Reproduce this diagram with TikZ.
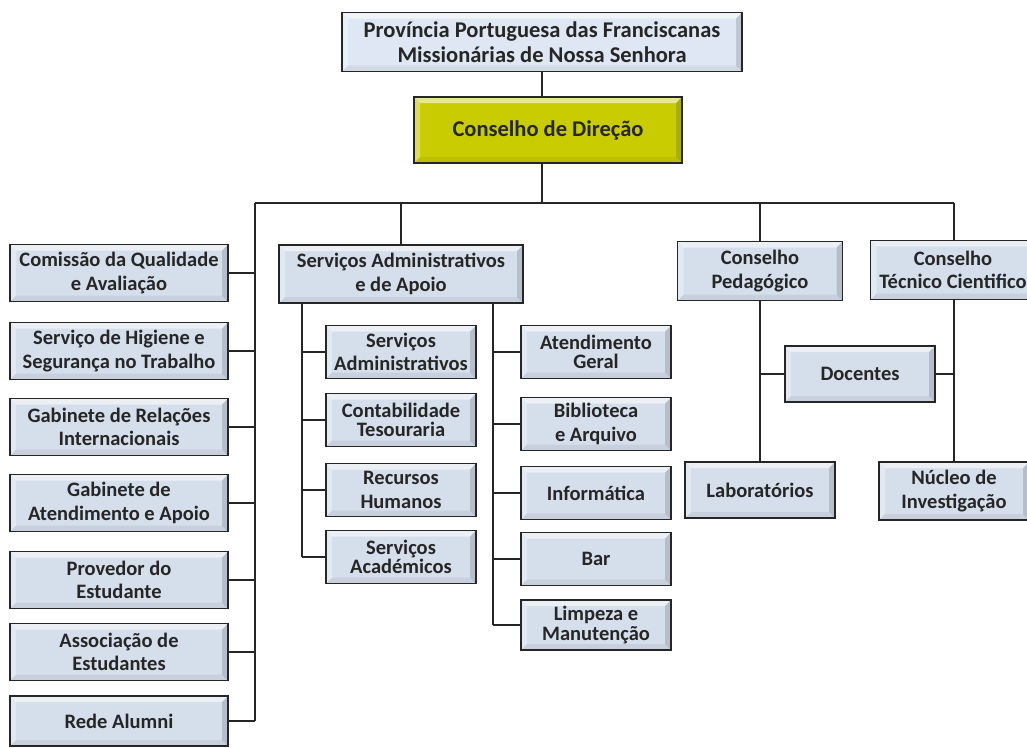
\documentclass[tikz,border=0pt]{standalone}
\usepackage{fontspec}
\setmainfont{Carlito}
\usetikzlibrary{positioning,calc}

\definecolor{boxblue}{RGB}{213,222,235}
\definecolor{titleblue}{RGB}{222,231,243}
\definecolor{chartreuse}{RGB}{200,204,0}

\tikzset{
  orgbox/.style={draw=black!85, line width=1.3pt, fill=#1, align=center, inner sep=2pt,
    font=\fontsize{20.5}{23.5}\selectfont\bfseries, text=black!85,
    path picture={
      % light bevel, top and left
      \fill[white, opacity=.55] (path picture bounding box.north west) -- (path picture bounding box.north east)
        -- ([xshift=-6pt,yshift=-6pt]path picture bounding box.north east) -- ([xshift=6pt,yshift=-6pt]path picture bounding box.north west) -- cycle;
      \fill[white, opacity=.35] (path picture bounding box.north west) -- ([xshift=6pt,yshift=-6pt]path picture bounding box.north west)
        -- ([xshift=6pt,yshift=6pt]path picture bounding box.south west) -- (path picture bounding box.south west) -- cycle;
      % dark bevel, right and bottom
      \fill[black, opacity=.14] (path picture bounding box.north east) -- (path picture bounding box.south east)
        -- ([xshift=-6pt,yshift=6pt]path picture bounding box.south east) -- ([xshift=-6pt,yshift=-6pt]path picture bounding box.north east) -- cycle;
      \fill[black, opacity=.06] (path picture bounding box.south west) -- (path picture bounding box.south east)
        -- ([xshift=-6pt,yshift=6pt]path picture bounding box.south east) -- ([xshift=6pt,yshift=6pt]path picture bounding box.south west) -- cycle;
    }},
  orgbox/.default=boxblue,
  bigtext/.style={font=\fontsize{22.5}{25}\selectfont\bfseries},
  leftbox/.style={orgbox, minimum width=218pt, minimum height=57pt},
  subbox/.style={orgbox, minimum width=150pt, minimum height=53pt},
  headbox/.style={orgbox, minimum width=165pt, minimum height=59pt},
  link/.style={line width=2pt, draw=black!85}
}

\begin{document}
\begin{tikzpicture}[x=1pt, y=-1pt]
        \useasboundingbox (0,0) rectangle (1027,747);
        \node[orgbox=titleblue, bigtext, minimum width=400pt, minimum height=59pt] (prov) at (542,42) {Província Portuguesa das Franciscanas\\Missionárias de Nossa Senhora};
        \node[orgbox=chartreuse, bigtext, minimum width=268pt, minimum height=66pt] (dir) at (548,130) {Conselho de Direção};
        \coordinate (busL) at (255,203);
        \coordinate (busR) at (954,203);
        % left column
        \node[leftbox] (cqa) at (119,273) {Comissão da Qualidade\\e Avaliação};
        \node[leftbox] (shst) at (119,351) {Serviço de Higiene e\\Segurança no Trabalho};
        \node[leftbox] (gri) at (119,427) {Gabinete de Relações\\Internacionais};
        \node[leftbox] (gaa) at (119,503) {Gabinete de\\Atendimento e Apoio};
        \node[leftbox] (prov2) at (119,580) {Provedor do\\Estudante};
        \node[leftbox] (assoc) at (119,652) {Associação de\\Estudantes};
        \node[leftbox, minimum height=50pt] (alumni) at (119,721) {Rede Alumni};
        % administrative services
        \node[orgbox, minimum width=244pt, minimum height=58pt] (sap) at (401,274) {Serviços Administrativos\\e de Apoio};
        \coordinate (sapL) at (302,303);
        \coordinate (sapR) at (493,303);
        \node[subbox] (sadm) at (401,352) {Serviços\\Administrativos};
        \node[subbox] (cont) at (401,420) {Contabilidade\\[-4pt]Tesouraria};
        \node[subbox] (rh) at (401,490) {Recursos\\Humanos};
        \node[subbox] (acad) at (401,557) {Serviços\\[-4pt]Académicos};
        \node[subbox] (ag) at (596,352) {Atendimento\\[-4pt]Geral};
        \node[subbox] (bib) at (596,424) {Biblioteca\\e Arquivo};
        \node[subbox] (inf) at (596,493) {Informática};
        \node[subbox] (bar) at (596,559) {Bar};
        \node[subbox, minimum height=50pt] (limp) at (596,625) {Limpeza e\\[-4pt]Manutenção};
        % councils
        \node[headbox] (cp) at (760,271) {Conselho\\Pedagógico};
        \node[headbox] (ctc) at (953,270) {Conselho\\Técnico Cientifico};
        \node[subbox, minimum height=56pt] (doc) at (860,374) {Docentes};
        \node[subbox, minimum height=56pt] (lab) at (760,490) {Laboratórios};
        \node[subbox, minimum height=58pt] (nucleo) at (954,491) {Núcleo de\\Investigação};

        \draw[link] (prov.south) -- (prov.south |- dir.north) (dir.south -| prov.south) -- (prov.south |- busL);
        \draw[link] (busL) -- (busR) (busL) -- (busL |- alumni.east);
        \draw[link] (sap.north |- busL) -- (sap.north) (cp.north |- busL) -- (cp.north) (busR) -- (busR |- ctc.north);
        \foreach \n in {cqa,shst,gri,gaa,prov2,assoc,alumni} \draw[link] (\n.east) -- (\n.east -| busL);
        \draw[link] (sapL) -- (sapL |- acad.west) (sapR) -- (sapR |- limp.west);
        \foreach \n in {sadm,cont,rh,acad} \draw[link] (\n.west) -- (\n.west -| sapL);
        \foreach \n in {ag,bib,inf,bar,limp} \draw[link] (\n.west) -- (\n.west -| sapR);
        \draw[link] (cp.south) -- (lab.north) (doc.west) -- (doc.west -| cp.south);
        \draw[link] (busR |- ctc.south) -- (busR |- nucleo.north) (doc.east) -- (doc.east -| busR);
\end{tikzpicture}
\end{document}
